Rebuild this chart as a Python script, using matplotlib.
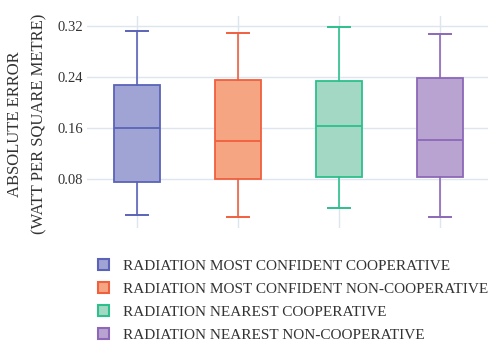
import matplotlib
matplotlib.use("Agg")
import matplotlib.pyplot as plt
from matplotlib.patches import Patch

categories = ["RADIATION MOST CONFIDENT COOPERATIVE",
              "RADIATION MOST CONFIDENT NON-COOPERATIVE",
              "RADIATION NEAREST COOPERATIVE",
              "RADIATION NEAREST NON-COOPERATIVE"]
whislo = [0.024, 0.021, 0.034, 0.021]
q1 = [0.0757, 0.0795, 0.0826, 0.0836]
med = [0.160, 0.140, 0.163, 0.141]
q3 = [0.227, 0.235, 0.233, 0.238]
whishi = [0.312, 0.309, 0.319, 0.307]
yticks = [0.08, 0.16, 0.24, 0.32]
ytick_labels = ["0.08", "0.16", "0.24", "0.32"]

edge_colors = ["#5b63b8", "#f0603f", "#2dbf8c", "#8c68b8"]
fill_colors = ["#a0a4d4", "#f6a582", "#a3d8c4", "#b9a4d1"]

plt.rcParams['font.family'] = ['Liberation Serif', 'DejaVu Serif']

W, H = 489, 343
fig = plt.figure(figsize=(W/100, H/100), dpi=100)
left_px, right_px, top_px, bot_px = 86.8, 489, 16, 228
ax = fig.add_axes([left_px/W, 1-bot_px/H, (right_px-left_px)/W, (bot_px-top_px)/H])

grid_c = "#dde5ee"
for y in yticks:
    ax.axhline(y, color=grid_c, lw=1, zorder=0)
for i in range(len(categories)):
    ax.axvline(i, color=grid_c, lw=1, zorder=0)

for i in range(len(categories)):
    st = [dict(med=med[i], q1=q1[i], q3=q3[i], whislo=whislo[i], whishi=whishi[i], fliers=[])]
    ax.bxp(st, positions=[i], widths=0.458, capwidths=0.214, patch_artist=True,
           showfliers=False,
           boxprops=dict(facecolor=fill_colors[i], edgecolor=edge_colors[i], lw=1.3),
           medianprops=dict(color=edge_colors[i], lw=1.3),
           whiskerprops=dict(color=edge_colors[i], lw=1.2),
           capprops=dict(color=edge_colors[i], lw=1.4), zorder=2)

ax.set_xlim(-0.5, -0.5 + (right_px-left_px)/101)
ax.set_ylim(0.003, 0.3357)
ax.set_xticks([])
ax.set_yticks(yticks)
ax.set_yticklabels(ytick_labels, fontsize=10.5, color="#333333")
ax.tick_params(axis='y', length=0, pad=2.5)
for s in ax.spines.values():
    s.set_visible(False)

fig.text(15/W, 1-124/H, "ABSOLUTE ERROR", rotation=90, ha='center', va='center',
         fontsize=12, color="#333333")
fig.text(39/W, 1-124/H, "(WATT PER SQUARE METRE)", rotation=90, ha='center', va='center',
         fontsize=12, color="#333333")

handles = [Patch(facecolor=fill_colors[i], edgecolor=edge_colors[i], lw=1.5) for i in range(4)]
fig.legend(handles, categories, loc='upper left', bbox_to_anchor=(98/W, 1-259/H),
           frameon=False, fontsize=11, handlelength=0.75, handleheight=0.72,
           handletextpad=0.9, labelspacing=0.6, borderaxespad=0, borderpad=0,
           labelcolor="#333333")

fig.savefig("out.png", dpi=100)
